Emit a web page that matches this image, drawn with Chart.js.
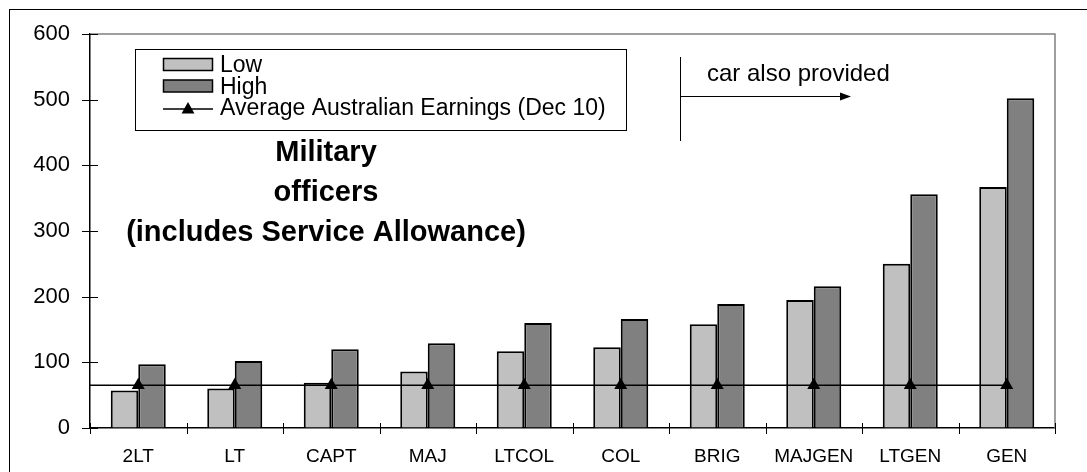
<!DOCTYPE html>
<html>
<head>
<meta charset="utf-8">
<script src="https://cdn.jsdelivr.net/npm/chart.js@4"></script>
<style>
  html, body { margin: 0; padding: 0; background: #fff; overflow: hidden; }
  #frame { position: absolute; left: 9px; top: 9px; width: 2000px; height: 2000px; border: 1.5px solid #000; }
  #wrap { position: absolute; left: 0; top: 0; width: 1087px; height: 472px; }
</style>
</head>
<body>
<div id="frame"></div>
<div id="wrap"><canvas id="chart"></canvas></div>
<script>
// officer ranks and pay range (thousand $)
const categories = ['2LT', 'LT', 'CAPT', 'MAJ', 'LTCOL', 'COL', 'BRIG', 'MAJGEN', 'LTGEN', 'GEN'];
const lowValues = [57, 60, 69, 86, 117, 123, 158, 195, 250, 367];
const highValues = [97, 102, 120, 129, 160, 166, 189, 216, 356, 502];
const averageEarnings = [65, 65, 65, 65, 65, 65, 65, 65, 65, 65];
const titleLines = ['Military', 'officers', '(includes Service Allowance)'];
const noteText = 'car also provided';

const FONT = '"Liberation Sans", Arial, sans-serif';

// y ticks cross the axis, x ticks sit between categories, plus grey top/right frame
const axisMarks = {
    id: 'axisMarks',
    afterDraw(chart) {
        const ctx = chart.ctx;
        const area = chart.chartArea;
        const x = chart.scales.x;
        const y = chart.scales.y;
        ctx.save();
        ctx.strokeStyle = '#808080';
        ctx.lineWidth = 1.5;
        ctx.beginPath();
        ctx.moveTo(area.left, area.top);
        ctx.lineTo(area.right, area.top);
        ctx.lineTo(area.right, area.bottom);
        ctx.stroke();

        ctx.strokeStyle = '#000';
        ctx.lineWidth = 1;
        ctx.beginPath();
        y.ticks.forEach(t => {
            const py = Math.round(y.getPixelForValue(t.value)) + 0.5;
            ctx.moveTo(area.left - 8, py);
            ctx.lineTo(area.left + 8, py);
        });
        for (let i = 0; i <= categories.length; i++) {
            let px;
            if (i === 0) px = area.left;
            else if (i === categories.length) px = area.right;
            else px = (x.getPixelForValue(i - 1) + x.getPixelForValue(i)) / 2;
            px = Math.round(px) + 0.5;
            ctx.moveTo(px, area.bottom - 5);
            ctx.lineTo(px, area.bottom + 6);
        }
        ctx.stroke();
        ctx.restore();
    }
};

// the average line starts at the value axis in the original
const lineLead = {
    id: 'lineLead',
    afterDatasetsDraw(chart) {
        const meta = chart.getDatasetMeta(0);
        const first = meta.data[0];
        if (!first) return;
        const ctx = chart.ctx;
        ctx.save();
        ctx.strokeStyle = '#000';
        ctx.lineWidth = 1.5;
        ctx.beginPath();
        ctx.moveTo(chart.chartArea.left, first.y);
        ctx.lineTo(first.x, first.y);
        ctx.stroke();
        ctx.restore();
    }
};

// boxed legend, title and note drawn inside the plot
const decorations = {
    id: 'decorations',
    afterDraw(chart) {
        const ctx = chart.ctx;
        ctx.save();

        // legend box
        ctx.fillStyle = '#fff';
        ctx.strokeStyle = '#000';
        ctx.lineWidth = 1;
        ctx.fillRect(135.5, 49.5, 491, 81);
        ctx.strokeRect(135.5, 49.5, 491, 81);

        const ds = chart.data.datasets;
        const rows = [ds[1], ds[2], ds[0]];
        ctx.font = '23px ' + FONT;
        ctx.textBaseline = 'middle';
        rows.forEach((d, i) => {
            const cy = 65 + i * 21.5;
            if (d.type === 'line') {
                ctx.strokeStyle = '#000';
                ctx.lineWidth = 1.5;
                ctx.beginPath();
                ctx.moveTo(163, cy + 1);
                ctx.lineTo(213, cy + 1);
                ctx.stroke();
                ctx.fillStyle = '#000';
                ctx.beginPath();
                ctx.moveTo(188, cy - 6);
                ctx.lineTo(194.5, cy + 5.5);
                ctx.lineTo(181.5, cy + 5.5);
                ctx.closePath();
                ctx.fill();
            } else {
                ctx.fillStyle = d.backgroundColor;
                ctx.fillRect(163.5, cy - 6.5, 49, 12);
                ctx.strokeStyle = '#000';
                ctx.lineWidth = 1.5;
                ctx.strokeRect(163.5, cy - 6.5, 49, 12);
            }
            ctx.fillStyle = '#000';
            ctx.textAlign = 'left';
            ctx.fillText(d.label, 220, cy + 1);
        });

        // title
        ctx.font = 'bold 29px ' + FONT;
        ctx.textAlign = 'center';
        ctx.fillStyle = '#000';
        titleLines.forEach((t, i) => ctx.fillText(t, 326, 153 + i * 40));

        // "car also provided" marker
        ctx.strokeStyle = '#000';
        ctx.lineWidth = 1;
        ctx.beginPath();
        ctx.moveTo(680.5, 57);
        ctx.lineTo(680.5, 141);
        ctx.moveTo(680.5, 96.5);
        ctx.lineTo(842, 96.5);
        ctx.stroke();
        ctx.beginPath();
        ctx.moveTo(851, 96.5);
        ctx.lineTo(840, 92.5);
        ctx.lineTo(840, 100.5);
        ctx.closePath();
        ctx.fill();
        ctx.font = '24px ' + FONT;
        ctx.textAlign = 'left';
        ctx.fillText(noteText, 707, 74);

        ctx.restore();
    }
};

new Chart(document.getElementById('chart'), {
    data: {
        labels: categories,
        datasets: [
            {
                type: 'line',
                label: 'Average Australian Earnings (Dec 10)',
                data: averageEarnings,
                borderColor: '#000',
                borderWidth: 1.5,
                pointStyle: 'triangle',
                pointRadius: 7.5,
                pointBackgroundColor: '#000',
                pointBorderColor: '#000',
                pointBorderWidth: 0,
                order: 0
            },
            {
                type: 'bar',
                label: 'Low',
                data: lowValues,
                backgroundColor: '#c0c0c0',
                borderColor: '#000',
                borderWidth: 2,
                barPercentage: 1,
                categoryPercentage: 0.57,
                order: 1
            },
            {
                type: 'bar',
                label: 'High',
                data: highValues,
                backgroundColor: '#808080',
                borderColor: '#000',
                borderWidth: 2,
                barPercentage: 1,
                categoryPercentage: 0.57,
                order: 1
            }
        ]
    },
    options: {
        responsive: true,
        maintainAspectRatio: false,
        animation: false,
        layout: { padding: { left: 0, top: 34, right: 32, bottom: 0 } },
        plugins: {
            legend: { display: false },
            tooltip: { enabled: false }
        },
        scales: {
            x: {
                offset: true,
                grid: { display: true, drawOnChartArea: false, drawTicks: false },
                border: { color: '#000', width: 1.5 },
                ticks: {
                    color: '#000',
                    padding: 17,
                    maxRotation: 0,
                    autoSkip: false,
                    font: { family: FONT, size: 19 }
                },
                afterFit(scale) { scale.height = 44; }
            },
            y: {
                min: 0,
                max: 600,
                grid: { display: true, drawOnChartArea: false, drawTicks: false },
                border: { color: '#000', width: 1.5 },
                ticks: {
                    stepSize: 100,
                    color: '#000',
                    padding: 20,
                    font: { family: FONT, size: 22 }
                },
                afterFit(scale) { scale.width = 90; }
            }
        }
    },
    plugins: [axisMarks, lineLead, decorations]
});
</script>
</body>
</html>
